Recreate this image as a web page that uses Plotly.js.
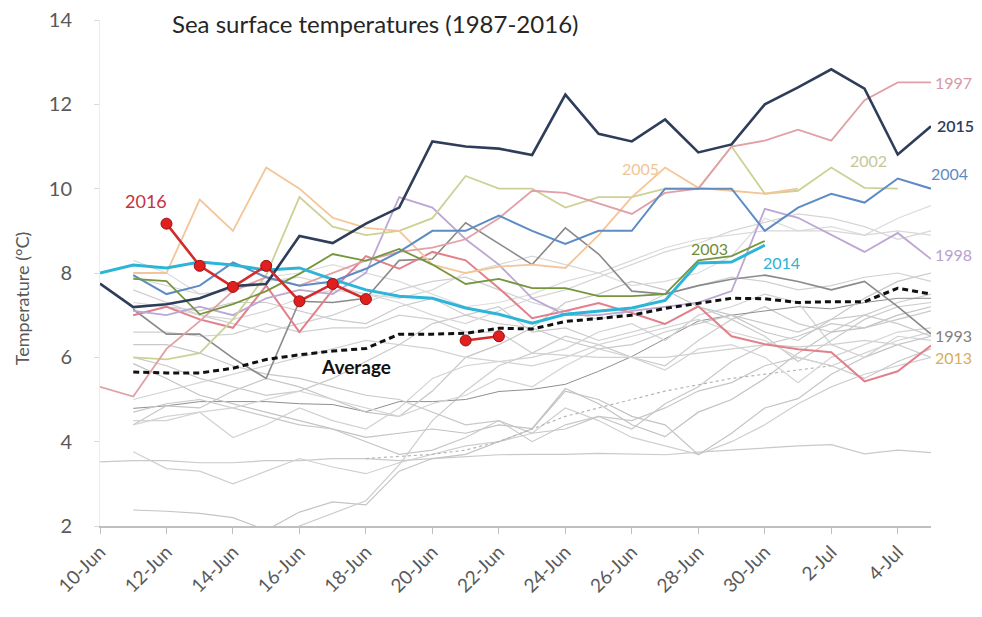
<!DOCTYPE html>
<html>
<head>
<meta charset="utf-8">
<script src="https://cdn.plot.ly/plotly-3.0.1.min.js"></script>
<style>
html,body{margin:0;padding:0;background:#fff;}
#chart{width:982px;height:617px;}
</style>
</head>
<body>
<div id="chart"></div>
<script>
// ---- categories (days) ----
const days = ['2016-06-10','2016-06-11','2016-06-12','2016-06-13','2016-06-14','2016-06-15','2016-06-16','2016-06-17','2016-06-18','2016-06-19','2016-06-20','2016-06-21','2016-06-22','2016-06-23','2016-06-24','2016-06-25','2016-06-26','2016-06-27','2016-06-28','2016-06-29','2016-06-30','2016-07-01','2016-07-02','2016-07-03','2016-07-04','2016-07-05'];
const tickVals = ['2016-06-10','2016-06-12','2016-06-14','2016-06-16','2016-06-18','2016-06-20','2016-06-22','2016-06-24','2016-06-26','2016-06-28','2016-06-30','2016-07-02','2016-07-04'];
const tickText = ['10-Jun','12-Jun','14-Jun','16-Jun','18-Jun','20-Jun','22-Jun','24-Jun','26-Jun','28-Jun','30-Jun','2-Jul','4-Jul'];
const yTicks = [2,4,6,8,10,12,14];

// ---- background years (grey) ----
const grey01 = [3.52,3.55,3.55,3.5,3.5,3.55,3.55,3.6,3.6,3.55,3.6,3.65,3.69,3.7,3.7,3.72,3.7,3.69,3.75,3.8,3.85,3.9,3.93,3.71,3.8,3.74];
const grey02 = [null,3.76,3.36,3.3,3.0,3.3,3.6,3.4,3.24,3.5,3.7,3.9,4.0,4.2,4.8,4.5,4.1,3.9,3.7,4.0,4.4,4.9,5.3,5.6,5.8,6.0];
const grey03 = [null,2.38,2.35,2.3,2.2,1.9,2.33,2.57,2.5,3.3,3.6,3.7,4.0,4.3,5.2,5.0,4.6,4.4,3.69,4.2,4.8,5.02,5.6,6.0,6.3,6.5];
const grey04 = [null,null,null,null,null,1.7,2.0,2.3,2.6,3.45,4.5,5.2,5.8,6.1,6.5,6.3,6.0,5.8,6.4,6.9,7.2,6.8,6.6,7.0,7.3,7.5];
const grey05 = [null,4.79,4.85,4.95,4.95,4.95,4.9,4.88,4.71,4.95,4.95,5.0,5.19,5.24,5.36,5.67,6.02,6.45,6.86,7.0,7.1,7.2,7.15,7.3,7.4,7.4];
const grey06 = [null,4.4,4.85,4.8,5.2,5.5,5.3,5.0,4.7,4.6,5.2,6.0,6.3,6.7,7.3,7.5,7.8,7.6,7.2,7.0,6.6,6.4,6.9,7.4,7.8,8.0];
const grey07 = [null,4.5,4.5,4.7,4.1,4.4,4.8,4.5,4.3,4.8,5.5,5.8,5.9,6.0,6.2,6.6,6.8,6.4,7.0,7.2,7.5,7.3,6.3,6.0,6.5,6.4];
const grey08 = [null,5.85,5.5,5.1,4.9,4.7,4.5,4.3,4.1,4.2,4.3,4.2,4.4,4.31,5.26,4.9,4.4,4.12,4.7,5.0,5.5,6.1,6.6,6.7,7.0,7.2];
const grey09 = [null,6.6,6.6,6.5,6.55,6.8,6.6,6.7,6.7,7.0,6.9,6.6,6.6,6.1,6.05,6.0,6.0,6.0,6.1,6.2,6.3,6.25,6.3,6.4,6.3,6.0];
const grey10 = [null,6.3,6.3,6.1,5.8,5.6,5.5,5.3,5.1,5.0,4.7,4.4,4.5,4.0,4.4,4.6,4.3,4.9,5.3,5.9,6.3,6.5,6.8,6.7,6.9,7.1];
const grey11 = [null,7.0,7.2,7.1,7.3,7.3,7.1,6.9,6.8,7.2,7.4,7.0,7.2,6.6,6.7,6.4,6.6,6.8,7.2,6.9,6.5,5.9,6.4,6.9,7.2,7.3];
const grey12 = [null,8.3,8.0,7.5,7.6,7.9,8.0,8.2,8.0,7.8,7.5,7.2,7.3,7.5,7.8,8.0,7.7,7.8,8.0,8.4,9.3,9.0,9.1,8.9,9.3,9.6];
const grey13 = [null,4.7,4.9,5.0,4.8,4.6,4.4,4.3,4.0,3.7,3.8,4.1,4.5,4.2,4.3,4.6,4.5,4.8,5.2,5.4,5.8,6.0,5.8,5.5,5.9,6.2];
const grey14 = [null,5.0,5.2,5.4,5.6,5.8,6.0,6.2,6.4,6.3,6.2,6.0,5.9,5.8,6.0,6.3,6.5,6.7,6.9,6.6,6.4,6.0,5.8,6.1,6.4,6.6];
const grey15 = [null,7.6,7.3,7.0,6.8,6.6,6.8,7.0,7.3,7.6,7.8,7.9,7.6,7.3,7.1,6.9,7.1,7.5,7.7,7.9,7.8,7.6,7.7,7.9,8.0,7.8];
const grey16 = [null,6.0,5.8,5.5,5.3,5.1,5.2,5.5,5.9,6.3,6.8,7.0,6.8,6.7,6.4,6.2,6.3,6.6,6.8,7.0,6.8,6.6,6.9,7.0,6.8,6.5];
const grey17 = [null,null,null,null,null,null,null,null,3.6,3.65,3.7,3.8,4.0,4.3,4.6,4.8,5.0,5.2,5.35,5.5,5.6,5.7,5.8,null,null,null];
const grey18 = [null,4.4,4.6,4.7,4.8,5.0,5.2,5.0,4.8,4.6,4.9,5.1,5.5,5.3,5.8,6.2,6.0,5.7,6.2,6.3,6.0,5.4,6.0,6.3,6.6,6.7];
const grey19 = [null,7.3,7.2,7.0,6.9,7.1,7.4,7.6,7.5,7.3,7.0,6.8,7.1,7.4,7.6,7.9,8.2,8.5,8.7,9.0,9.2,9.4,9.3,9.1,8.8,9.0];
const grey20 = [null,7.9,7.7,7.5,7.6,7.8,7.9,7.7,7.5,7.4,7.6,8.0,8.2,8.4,8.2,8.0,8.3,8.6,8.8,8.9,9.0,9.0,9.0,8.9,9.0,8.9];

// ---- highlighted years ----
const y1993 = [null,7.14,6.55,6.55,5.98,5.5,7.33,7.3,7.4,8.3,8.33,9.19,8.7,8.2,9.07,8.45,7.57,7.5,7.7,7.85,7.95,7.8,7.6,7.8,7.2,6.55];
const y1997 = [5.3,5.07,6.2,6.86,7.57,7.9,7.7,8.0,8.3,8.5,8.6,8.8,9.3,9.95,9.9,9.65,9.4,9.9,10.0,11.0,11.14,11.4,11.14,12.1,12.52,12.52];
const y1998 = [null,7.1,7.0,7.2,7.0,7.4,7.6,7.5,8.0,9.8,9.55,8.8,8.2,7.4,7.0,7.0,7.1,7.2,7.3,7.57,9.52,9.31,8.9,8.5,8.95,8.33];
const y2002 = [null,6.0,5.95,6.1,6.9,7.95,9.8,9.1,8.9,9.0,9.3,10.3,10.0,10.0,9.55,9.8,9.8,10.0,10.0,11.0,9.88,9.95,10.5,10.02,10.0,null];
const y2003 = [null,7.86,7.81,7.02,7.26,7.57,7.98,8.45,8.29,8.57,8.2,7.74,7.86,7.64,7.64,7.45,7.45,7.5,8.3,8.4,8.76,null,null,null,null,null];
const y2004 = [null,7.95,7.5,7.7,8.25,7.9,7.7,7.8,8.1,8.5,9.0,9.0,9.36,9.0,8.69,9.0,9.0,10.0,10.0,10.0,9.0,9.55,9.88,9.67,10.24,10.0];
const y2005 = [null,8.0,8.0,9.74,9.0,10.5,10.0,9.31,9.07,9.0,8.2,8.0,8.15,8.2,8.12,8.9,9.8,10.5,10.02,9.95,9.88,10.0,null,null,null,null];
const y2013 = [null,7.0,7.2,6.9,6.7,7.7,6.6,7.6,8.4,8.1,8.5,8.3,7.64,6.93,7.1,7.29,7.05,6.79,7.21,6.5,6.31,6.19,6.12,5.43,5.67,6.28];
const y2014 = [8.0,8.19,8.12,8.26,8.19,8.07,8.12,7.85,7.6,7.45,7.4,7.17,7.02,6.81,7.02,7.1,7.17,7.35,8.24,8.26,8.66,null,null,null,null,null];
const y2015 = [7.75,7.19,7.26,7.4,7.69,7.74,8.88,8.71,9.17,9.55,11.12,11.0,10.95,10.8,12.23,11.3,11.12,11.64,10.86,11.05,12.0,12.4,12.83,12.37,10.81,11.48];
const y2016 = [null,null,9.17,8.17,7.67,8.17,7.33,7.74,7.38,null,null,6.40,6.50,null,null,null,null,null,null,null,null,null,null,null,null,null];
const average = [null,5.65,5.63,5.63,5.74,5.95,6.06,6.15,6.21,6.55,6.55,6.57,6.69,6.67,6.85,6.92,7.0,7.16,7.28,7.4,7.39,7.3,7.32,7.32,7.64,7.5];

// ---- label texts ----
const labelTexts = ['1997','2015','2004','2002','2005','2003','2014','1998','1993','2013','2016','Average'];

const greys = [grey01,grey02,grey03,grey04,grey05,grey06,grey07,grey08,grey09,grey10,grey11,grey12,grey13,grey14,grey15,grey16,grey17,grey18,grey19,grey20];
const greyColors = ['#c9c9c9','#cfcfcf','#c4c4c4','#cdcdcd','#8f8f8f','#c6c6c6','#d2d2d2','#c2c2c2','#d0d0d0','#c8c8c8','#cbcbcb','#dcdcdc','#c7c7c7','#d3d3d3','#d0d0d0','#cacaca','#b5b5b5','#d4d4d4','#d6d6d6','#d8d8d8'];

const traces = [];
greys.forEach((g,i)=>{
  traces.push({x:days,y:g,type:'scatter',mode:'lines',hoverinfo:'skip',
    line:{color:greyColors[i],width:(i===4?1:1.2),dash:(i===16?'dot':'solid')},connectgaps:false});
});

function add(y,color,width){
  traces.push({x:days,y:y,type:'scatter',mode:'lines',hoverinfo:'skip',
    line:{color:color,width:width},connectgaps:false});
}
add(y1993,'#8a8a8a',1.6);
add(y2013,'#e27f8a',2);
add(y1998,'#bca7d3',1.8);
add(y2002,'#cdd196',1.8);
add(y2005,'#f4c597',1.8);
add(y1997,'#e0a0a6',1.8);
add(y2004,'#5d8bc4',2);
add(y2003,'#76963d',1.8);
add(y2014,'#2cb5d8',3);
add(y2015,'#2e3d59',2.6);
traces.push({x:days,y:average,type:'scatter',mode:'lines',hoverinfo:'skip',
  line:{color:'#111111',width:3,dash:'6px,4px'}});
traces.push({x:days,y:y2016,type:'scatter',mode:'lines+markers',hoverinfo:'skip',connectgaps:false,
  line:{color:'#d42a2a',width:2.6},
  marker:{size:11,color:'#e01f1f',line:{color:'#9a1010',width:1}}});

const lf = 'Lato, "Open Sans", sans-serif';
function lab(text,x,y,color,opts){
  return Object.assign({text:text,x:x,y:y,xref:'x',yref:'y',showarrow:false,
    font:{family:lf,size:16,color:color},xanchor:'center',yanchor:'middle'},opts||{});
}
const annotations = [
  lab(labelTexts[0],'2016-07-05',12.52,'#d69aa5',{xanchor:'left',xshift:2}),
  lab(labelTexts[1],'2016-07-05',11.5,'#2e3d59',{xanchor:'left',xshift:4,font:{family:lf,size:16,color:'#2e3d59',weight:600}}),
  lab(labelTexts[2],'2016-07-05',10.36,'#5d8bc4',{xanchor:'left',xshift:-2}),
  lab(labelTexts[3],'2016-07-03 03:00',10.67,'#c5c79a'),
  lab(labelTexts[4],'2016-06-26 06:00',10.48,'#f0c597'),
  lab(labelTexts[5],'2016-06-28 08:00',8.57,'#6f8c35'),
  lab(labelTexts[6],'2016-06-30 12:00',8.26,'#2cb2d2'),
  lab(labelTexts[7],'2016-07-05',8.45,'#b9a0cf',{xanchor:'left',xshift:2}),
  lab(labelTexts[8],'2016-07-05',6.52,'#808080',{xanchor:'left',xshift:2}),
  lab(labelTexts[9],'2016-07-05',6.0,'#d9ad5a',{xanchor:'left',xshift:2}),
  lab(labelTexts[10],'2016-06-11 09:00',9.7,'#c53341',{font:{family:lf,size:18,color:'#c53341'}}),
  lab(labelTexts[11],'2016-06-17 17:00',5.79,'#111111',{font:{family:lf,size:19,color:'#111111',weight:700}}),
  {text:'Temperature (°C)',xref:'paper',yref:'paper',x:-0.094,y:0.45,textangle:-90,showarrow:false,
   font:{family:lf,size:18,color:'#595959'},xanchor:'center',yanchor:'middle'}
];

const layout = {
  width:982,height:617,
  margin:{l:100,r:51,t:20,b:91},
  paper_bgcolor:'#ffffff',plot_bgcolor:'#ffffff',
  showlegend:false,
  title:{text:'Sea surface temperatures (1987-2016)',x:172/982,xanchor:'left',y:1-25/617,yanchor:'middle',
    font:{family:lf,size:24,color:'#262626'}},
  xaxis:{type:'date',range:['2016-06-10','2016-07-05'],tickvals:tickVals,ticktext:tickText,tickangle:-45,
    showgrid:false,zeroline:false,showline:true,linecolor:'#bfbfbf',linewidth:1.5,
    ticks:'outside',ticklen:6,tickcolor:'#bfbfbf',tickfont:{family:lf,size:19,color:'#595959'}},
  yaxis:{range:[2,14],tickvals:yTicks,showgrid:false,zeroline:false,showline:true,linecolor:'#ececec',linewidth:1,
    ticks:'outside',ticklen:5,tickcolor:'#d9d9d9',ticklabelstandoff:18,
    tickfont:{family:lf,size:20,color:'#595959'}},
  annotations:annotations
};
Plotly.newPlot('chart',traces,layout,{displayModeBar:false,staticPlot:true});
</script>
</body>
</html>
